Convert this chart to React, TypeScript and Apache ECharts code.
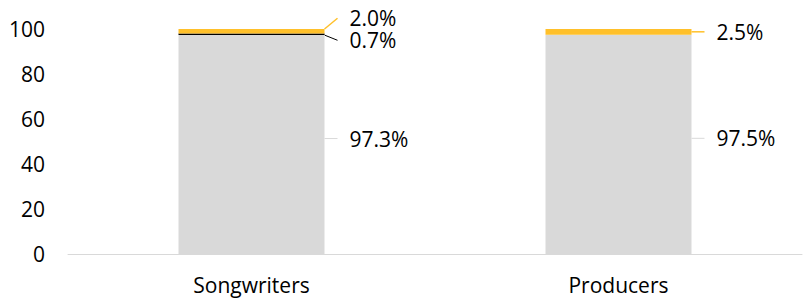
import React, { useEffect, useRef } from "react";
import * as echarts from "echarts";

const categories = ["Songwriters", "Producers"];
const baseValues = [97.3, 97.5];
const blackValues = [0.7, 0];
const yellowValues = [2.0, 2.5];
const yTicks = { min: 0, max: 100, interval: 20 };

const FONT = "'Open Sans', 'Noto Sans', sans-serif";
const FS = 21;

export default function App() {
  const ref = useRef<HTMLDivElement>(null);
  useEffect(() => {
    if (!ref.current) return;
    const chart = echarts.init(ref.current, null, { renderer: "svg" });
    const labelBase = {
      show: true,
      position: "right",
      distance: 13,
      padding: [0, 0, 0, 12],
      backgroundColor: "rgba(255,255,255,0)",
      color: "#000",
      fontFamily: FONT,
      fontSize: FS,
      lineHeight: 19,
      formatter: (p: any) => p.value.toFixed(1) + "%",
    };
    chart.setOption({
      animation: false,
      grid: { left: 68, right: 3, top: 29, bottom: 44 },
      xAxis: {
        type: "category",
        data: categories,
        axisLine: { lineStyle: { color: "#d9d9d9", width: 1 } },
        axisTick: { show: false },
        axisLabel: { color: "#000", fontFamily: FONT, fontSize: FS, lineHeight: 21, margin: 20 },
      },
      yAxis: {
        type: "value",
        min: yTicks.min,
        max: yTicks.max,
        interval: yTicks.interval,
        axisLine: { show: false },
        axisTick: { show: false },
        splitLine: { show: false },
        axisLabel: { color: "#000", fontFamily: FONT, fontSize: FS, margin: 23 },
      },
      series: [
        {
          type: "bar",
          stack: "s",
          barWidth: 146,
          data: baseValues,
          itemStyle: { color: "#d9d9d9" },
          label: labelBase,
          labelLayout: { dy: -6 },
          labelLine: { show: true, lineStyle: { color: "#d9d9d9", width: 1 } },
        },
        {
          type: "bar",
          stack: "s",
          barWidth: 146,
          data: blackValues.map((v) => ({ value: v, label: { show: v > 0 } })),
          itemStyle: { color: "#000" },
          label: labelBase,
          labelLayout: { dy: 6 },
          labelLine: { show: true, lineStyle: { color: "#000", width: 1 } },
        },
        {
          type: "bar",
          stack: "s",
          barWidth: 146,
          data: yellowValues,
          itemStyle: { color: "#ffc02a" },
          label: labelBase,
          labelLayout: (p: any) => ({ dy: p.dataIndex === 0 ? -13 : 0 }),
          labelLine: { show: true, lineStyle: { color: "#ffc02a", width: 1.5 } },
        },
      ],
    });
    return () => chart.dispose();
  }, []);
  return (
    <div
      ref={ref}
      style={{ position: "absolute", left: 0, top: 0, width: 805, height: 298 }}
    />
  );
}
